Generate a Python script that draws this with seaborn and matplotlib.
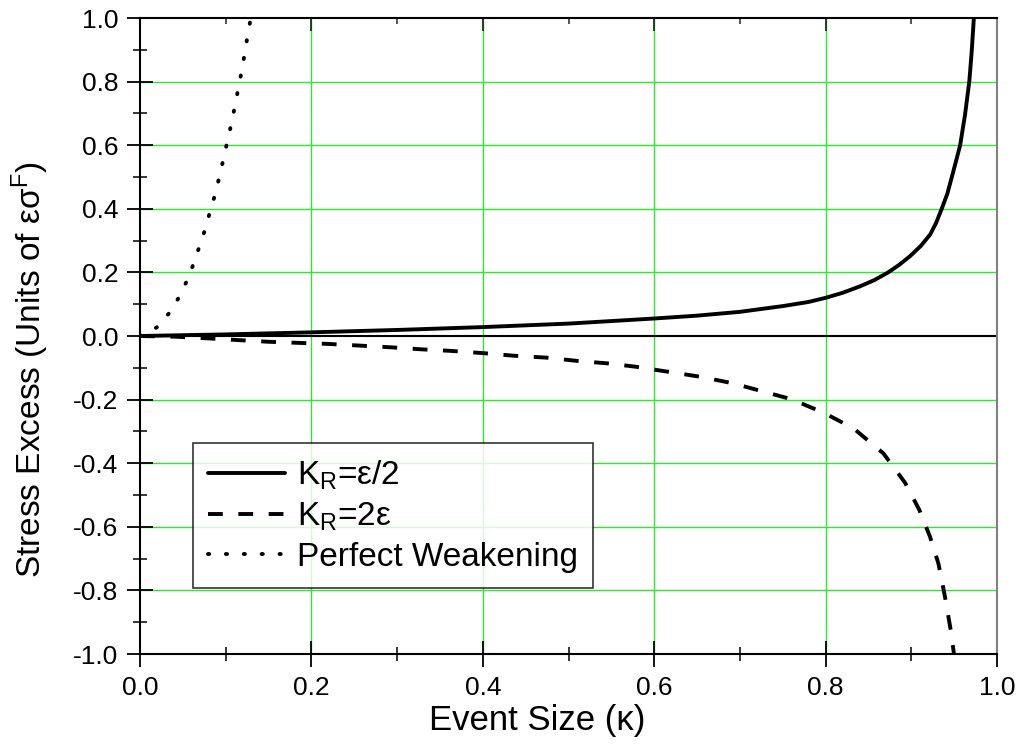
import numpy as np
import pandas as pd
import matplotlib
matplotlib.use("Agg")
import matplotlib.pyplot as plt
import seaborn as sns
from matplotlib.ticker import MultipleLocator, FormatStrFormatter

# ---- data ----
kappa_half = [0.0, 0.1, 0.2, 0.3, 0.4, 0.5, 0.6, 0.65, 0.7, 0.75, 0.78, 0.8, 0.82, 0.84,
              0.857, 0.873, 0.886, 0.8985, 0.911, 0.922, 0.929, 0.9355, 0.942, 0.947,
              0.952, 0.957, 0.9627, 0.9677, 0.9705, 0.973]
stress_half = [0.0, 0.005, 0.0115, 0.019, 0.028, 0.039, 0.055, 0.064, 0.076, 0.094, 0.107,
               0.12, 0.136, 0.156, 0.176, 0.2, 0.224, 0.251, 0.283, 0.319, 0.356, 0.4,
               0.447, 0.497, 0.548, 0.6, 0.696, 0.801, 0.895, 1.0]

kappa_two = [0.0, 0.04, 0.076, 0.113, 0.149, 0.185, 0.2205, 0.258, 0.293, 0.329, 0.364,
             0.401, 0.436, 0.474, 0.509, 0.545, 0.578, 0.6534, 0.6923, 0.7235, 0.7604,
             0.7974, 0.8324, 0.8674, 0.8926, 0.9094, 0.9218, 0.9316, 0.9393, 0.946, 0.9498]
stress_two = [0.0, -0.002, -0.007, -0.0126, -0.018, -0.0216, -0.025, -0.0304, -0.0356,
              -0.042, -0.047, -0.054, -0.062, -0.068, -0.078, -0.086, -0.0965, -0.128,
              -0.149, -0.172, -0.199, -0.241, -0.290, -0.369, -0.461, -0.547, -0.631,
              -0.715, -0.820, -0.925, -1.0]

kappa_pw = [0.0, 0.0195, 0.037, 0.0478, 0.0572, 0.0642, 0.0708, 0.0774, 0.0825, 0.0887,
            0.093, 0.0977, 0.102, 0.1066, 0.1105, 0.1144, 0.1182, 0.1217, 0.1249, 0.1284, 0.1295]
stress_pw = [0.0, 0.027, 0.081, 0.134, 0.188, 0.241, 0.293, 0.347, 0.400, 0.454, 0.507,
             0.560, 0.613, 0.667, 0.720, 0.774, 0.827, 0.881, 0.934, 0.987, 1.0]

labels = [r"K$_\mathrm{R}$=ε/2", r"K$_\mathrm{R}$=2ε", "Perfect Weakening"]
x_ticks = [0.0, 0.2, 0.4, 0.6, 0.8, 1.0]
y_ticks = [-1.0, -0.8, -0.6, -0.4, -0.2, 0.0, 0.2, 0.4, 0.6, 0.8, 1.0]

sns.set_theme(style="white")
plt.rcParams["font.family"] = ["Liberation Sans", "DejaVu Sans"]
plt.rcParams["mathtext.fontset"] = "custom"
plt.rcParams["mathtext.rm"] = "Liberation Sans"
plt.rcParams["mathtext.it"] = "Liberation Sans:italic"
plt.rcParams["axes.unicode_minus"] = False
plt.rcParams["text.color"] = "black"
plt.rcParams["axes.labelcolor"] = "black"

fig = plt.figure(figsize=(10.17, 7.5), dpi=100)
ax = fig.add_axes([140 / 1017, 96 / 750, 857 / 1017, 636 / 750])

grid_col = "#2ee82e"
for xv in x_ticks[1:-1]:
    ax.axvline(xv, color=grid_col, lw=1.0, zorder=0)
for yv in y_ticks[1:-1]:
    if yv != 0.0:
        ax.axhline(yv, color=grid_col, lw=1.0, zorder=0)
ax.axhline(0.0, color="black", lw=1.5, zorder=1)

lw = 2.8
sns.lineplot(x=kappa_half, y=stress_half, ax=ax, color="black", lw=lw,
             errorbar=None, sort=False, label=labels[0])
sns.lineplot(x=kappa_two, y=stress_two, ax=ax, color="black", lw=lw,
             errorbar=None, sort=False, label=labels[1], linestyle=(0, (3.8, 4.0)))
sns.lineplot(x=kappa_pw, y=stress_pw, ax=ax, color="black", lw=lw,
             errorbar=None, sort=False, label=labels[2], linestyle=(0, (0.3, 4.3)),
             dash_capstyle="round")

ax.set_xlim(0, 1)
ax.set_ylim(-1, 1)
ax.set_xticks(x_ticks)
ax.set_yticks(y_ticks)
ax.xaxis.set_minor_locator(MultipleLocator(0.1))
ax.yaxis.set_minor_locator(MultipleLocator(0.1))
ax.xaxis.set_major_formatter(FormatStrFormatter("%.1f"))
ax.yaxis.set_major_formatter(FormatStrFormatter("%.1f"))

ax.tick_params(axis="both", which="major", direction="inout", length=19, width=1.3,
               color="black", labelsize=19, labelcolor="black")
ax.tick_params(axis="both", which="minor", direction="inout", length=10, width=1.1,
               color="black")
ax.tick_params(axis="x", which="major", pad=6)
ax.tick_params(axis="y", which="major", pad=6)
ax.tick_params(bottom=True, left=True, top=False, right=False, which="both")

sec = ax.secondary_xaxis("top")
sec.set_xticks(x_ticks)
sec.xaxis.set_minor_locator(MultipleLocator(0.1))
sec.tick_params(which="major", direction="in", length=9, width=1.3, labeltop=False)
sec.tick_params(which="minor", direction="in", length=4.5, width=1.1)
sec.spines["top"].set_visible(False)

for s in ["left", "bottom", "top"]:
    ax.spines[s].set_color("black")
    ax.spines[s].set_linewidth(1.5)
    ax.spines[s].set_visible(True)
ax.spines["right"].set_color("#808080")
ax.spines["right"].set_linewidth(1.5)
ax.spines["right"].set_visible(True)

ax.set_xlabel("Event Size (κ)", fontsize=25)
ax.set_ylabel(r"Stress Excess (Units of εσ$^{\mathrm{F}}$)", fontsize=24)
ax.xaxis.set_label_coords(0.464, -0.104)
ax.yaxis.set_label_coords(-0.128, 0.447)
ax.xaxis.label.set_va("center")
ax.yaxis.label.set_va("center")

leg = ax.legend(loc="lower left", bbox_to_anchor=(0.0618, 0.1038), borderaxespad=0,
                fontsize=24, frameon=True, fancybox=False, edgecolor="black",
                handlelength=2.3, handletextpad=0.36, labelspacing=0.27,
                borderpad=0.45)
leg.get_frame().set_linewidth(1.2)

fig.savefig("out.png", dpi=100)
